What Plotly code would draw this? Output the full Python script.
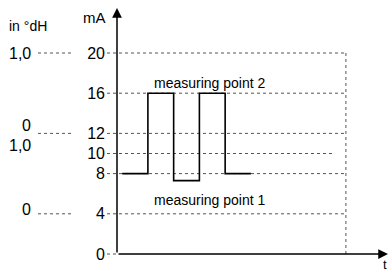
import plotly.graph_objects as go

# ---- data ----
time_points = [0.2, 1.2, 2.2, 3.2, 4.2, 5.2]      # arbitrary time units
current_mA = [8, 16, 7.3, 16, 8, 8]                 # step signal (hv)
mA_ticks = [0, 4, 8, 10, 12, 16, 20]
mA_tick_labels = ["0", "4", "8", "10", "12", "16", "20"]
dH_marks = [20, 12, 4]                              # where hardness leaders sit
dH_labels = [("1,0", 20, 0), ("0", 12, 8), ("1,0", 12, -12), ("0", 4, 4)]
grid_end = {0: 0.0, 4: 8.89, 8: 8.89, 10: 8.39, 12: 8.89, 16: 8.89, 20: 8.89}

W, H = 389, 271
PX_X = 25.75          # px per time unit
PX_Y = 10.05          # px per mA
X0_PX = 117           # pixel of t=0
Y0_PX = 254           # pixel of mA=0

xr = [-X0_PX / PX_X, (W - X0_PX) / PX_X]
yr = [-(H - Y0_PX) / PX_Y, Y0_PX / PX_Y]

def px2x(p):
    return (p - X0_PX) / PX_X

def px2y(p):
    return (Y0_PX - p) / PX_Y

FONT = "Liberation Sans, Arial, sans-serif"
fig = go.Figure()

fig.add_trace(go.Scatter(
    x=time_points, y=current_mA, mode="lines", line_shape="hv",
    line=dict(color="black", width=1.6), hoverinfo="skip", showlegend=False))

shapes = []
dot = dict(color="#555555", width=1, dash="dot")
# horizontal grid / leaders
for v in mA_ticks:
    shapes.append(dict(type="line", xref="x", yref="y",
                       x0=px2x(107), x1=grid_end[v], y0=v, y1=v, line=dot, layer="below"))
# vertical dotted line
shapes.append(dict(type="line", xref="x", yref="y", x0=8.89, x1=8.89,
                   y0=0, y1=20, line=dot, layer="below"))
# hardness leaders
for v in dH_marks:
    shapes.append(dict(type="line", xref="x", yref="y",
                       x0=px2x(38), x1=px2x(71), y0=v, y1=v, line=dot))

annotations = []
# axes arrows
annotations.append(dict(x=0, y=px2y(8), ax=0, ay=0, xref="x", yref="y",
                        axref="x", ayref="y", showarrow=True, arrowhead=2,
                        arrowsize=1.3, arrowwidth=1.5, arrowcolor="black", text=""))
annotations.append(dict(x=px2x(388), y=0, ax=0, ay=0, xref="x", yref="y",
                        axref="x", ayref="y", showarrow=True, arrowhead=2,
                        arrowsize=1.3, arrowwidth=1.5, arrowcolor="black", text=""))
# hardness labels
for txt, v, shift in dH_labels:
    annotations.append(dict(x=px2x(33), y=v, xref="x", yref="y", text=txt,
                            showarrow=False, xanchor="right", yanchor="middle",
                            yshift=shift, font=dict(family=FONT, size=16, color="black")))
annotations.append(dict(x=px2x(7), y=px2y(26), xref="x", yref="y", text="in °dH",
                        showarrow=False, xanchor="left", yanchor="middle",
                        font=dict(family=FONT, size=14, color="black")))
annotations.append(dict(x=px2x(108), y=px2y(17), xref="x", yref="y", text="mA",
                        showarrow=False, xanchor="right", yanchor="middle",
                        font=dict(family=FONT, size=15, color="black")))
annotations.append(dict(x=px2x(389), y=px2y(264), xref="x", yref="y", text="t",
                        showarrow=False, xanchor="right", yanchor="middle",
                        font=dict(family=FONT, size=13, color="black")))
annotations.append(dict(x=px2x(210), y=px2y(83), xref="x", yref="y",
                        text="measuring point 2", showarrow=False,
                        font=dict(family=FONT, size=14, color="black")))
annotations.append(dict(x=px2x(210), y=px2y(200), xref="x", yref="y",
                        text="measuring point 1", showarrow=False,
                        font=dict(family=FONT, size=14, color="black")))

fig.update_layout(
    width=W, height=H, margin=dict(l=0, r=0, t=0, b=0),
    paper_bgcolor="white", plot_bgcolor="white",
    xaxis=dict(range=xr, visible=False, fixedrange=True),
    yaxis=dict(range=yr, anchor="free", position=X0_PX / W, side="left",
               tickvals=mA_ticks, ticktext=mA_tick_labels, ticks="",
               showgrid=False, zeroline=False, showline=False,
               ticklabelstandoff=12, fixedrange=True,
               tickfont=dict(family=FONT, size=16, color="black")),
    shapes=shapes, annotations=annotations, showlegend=False,
)

fig.write_html("out.html", config={"displayModeBar": False},
               post_script="document.body.style.margin='0';document.body.style.overflow='hidden';")
